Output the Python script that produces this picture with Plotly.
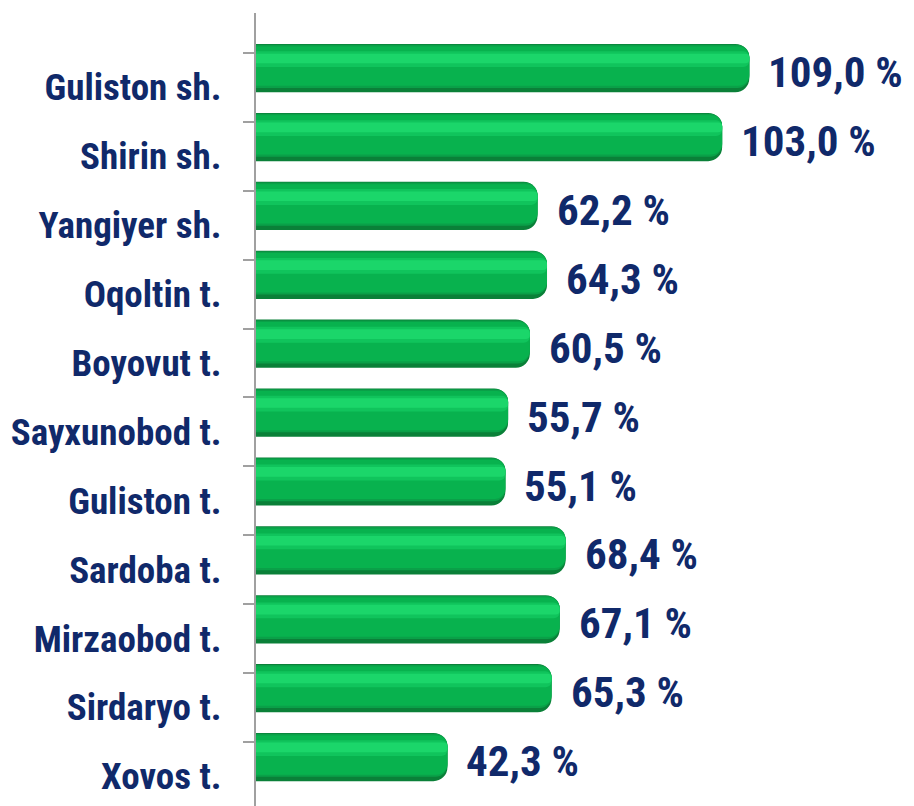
import plotly.graph_objects as go

categories = ["Guliston sh.", "Shirin sh.", "Yangiyer sh.", "Oqoltin t.", "Boyovut t.",
              "Sayxunobod t.", "Guliston t.", "Sardoba t.", "Mirzaobod t.", "Sirdaryo t.", "Xovos t."]
values = [109.0, 103.0, 62.2, 64.3, 60.5, 55.7, 55.1, 68.4, 67.1, 65.3, 42.3]
value_labels = [f"{v:.1f}".replace(".", ",") + " %" for v in values]

NAVY = "#10296a"
FONT = "Roboto Condensed, Liberation Sans Narrow, Arial Narrow, Roboto, sans-serif"

fig = go.Figure()

# bar layers to mimic the glossy cylinder look (same values, different slices of the bar thickness)
layers = [
    # (offset, width, color, cornerradius)
    (-0.35, 0.70, "#0a8038", 14),
    (-0.338, 0.625, "#0aa048", 12),
    (-0.315, 0.57, "#08b24e", 11),
    (-0.245, 0.23, "#10c45c", 6),
    (-0.21, 0.14, "#1bd66a", 4),
]
for off, w, col, cr in layers:
    fig.add_trace(go.Bar(
        x=values, y=categories, orientation="h",
        yaxis="y2", xaxis="x",
        offset=off, width=w,
        marker=dict(color=col, line=dict(width=0), cornerradius=cr),
        hoverinfo="skip", showlegend=False,
    ))

for cat, v, lab in zip(categories, values, value_labels):
    fig.add_annotation(x=v, y=cat, xref="x", yref="y2", text=lab, showarrow=False,
                       xanchor="left", yanchor="middle", xshift=17, yshift=-4,
                       font=dict(family=FONT, size=43, color=NAVY, weight="bold"))

# invisible trace to give the label axis its categories
fig.add_trace(go.Scatter(x=[None] * len(categories), y=categories, yaxis="y", xaxis="x",
                         mode="markers", showlegend=False, hoverinfo="skip"))

fig.update_layout(
    width=914, height=806,
    margin=dict(l=256, r=9, t=13, b=0, autoexpand=False),
    paper_bgcolor="white", plot_bgcolor="white",
    barmode="overlay",
    xaxis=dict(range=[0, 143.4], visible=False, fixedrange=True, automargin=False),
    yaxis=dict(type="category", categoryorder="array", categoryarray=categories,
               range=[10.43, -1.08], tickson="boundaries", automargin=False,
               ticks="outside", ticklen=11, tickwidth=2, tickcolor="#a0a0a0",
               showline=True, linecolor="#a0a0a0", linewidth=2,
               showgrid=False, zeroline=False, ticklabelstandoff=25,
               tickfont=dict(family=FONT, size=37, color=NAVY, weight="bold")),
    yaxis2=dict(type="category", categoryorder="array", categoryarray=categories,
                overlaying="y", range=[10.71, -0.80], visible=False, automargin=False),
)

fig.write_html("out.html", config={"displayModeBar": False},
               post_script="document.body.style.margin='0';document.body.style.overflow='hidden';")
